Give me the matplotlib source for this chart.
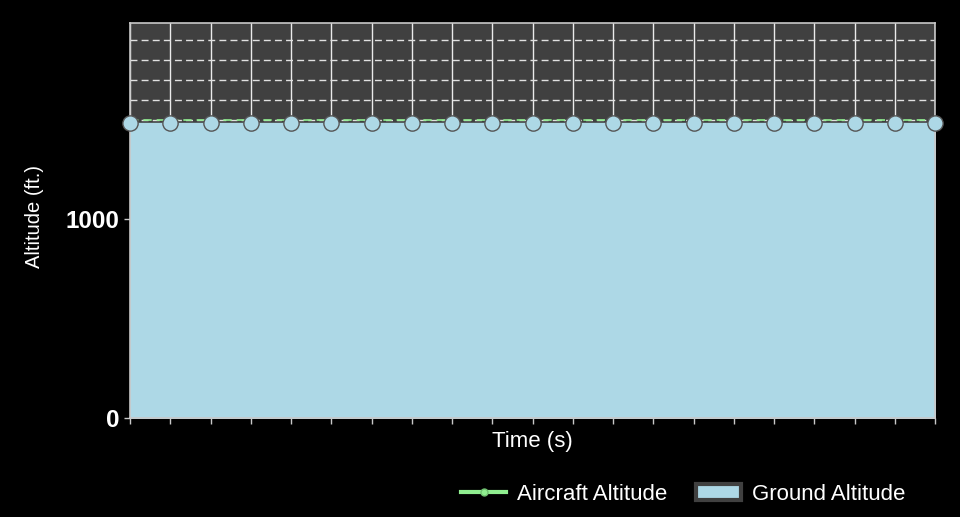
import numpy as np
import matplotlib
matplotlib.use("Agg")
import matplotlib.pyplot as plt
from matplotlib.lines import Line2D
from matplotlib.patches import Patch

# data
time_s = list(range(21))
ground_alt = [1482] * 21
aircraft_alt = [1500] * 21
y_ticks = [0, 1000]

plt.rcParams['font.family'] = ['Liberation Sans', 'DejaVu Sans']

fig = plt.figure(figsize=(9.6, 5.17), dpi=100, facecolor='black')
ax = fig.add_axes([130 / 960, 1 - 418 / 517, 805 / 960, (418 - 22.7) / 517])
ax.set_facecolor('#404040')

ax.set_xlim(0, 20)
ax.set_ylim(0, 1988)

# grid
ax.set_xticks(time_s)
ax.set_xticklabels([])
ax.set_yticks(y_ticks)
ax.set_yticks(np.arange(100, 2000, 100), minor=True)
ax.grid(True, axis='x', which='major', color='#ebebeb', lw=1.0, zorder=1)
ax.grid(True, axis='y', which='minor', color='#e0e0e0', lw=1.0, ls=(0, (5, 3)), zorder=1)
ax.tick_params(axis='y', which='minor', length=0)
ax.tick_params(axis='both', which='major', colors='#c8c8c8', length=4, width=1)
for lbl in ax.get_yticklabels():
    lbl.set_color('white')
    lbl.set_fontweight('bold')
    lbl.set_fontsize(17.5)
for sp in ax.spines.values():
    sp.set_color('#c8c8c8')
    sp.set_linewidth(1.2)

# ground area
ax.fill_between(time_s, 0, ground_alt, color='#add8e6', zorder=2)

# aircraft line
ax.plot(time_s, aircraft_alt, color='#90ee90', ls=(0, (5, 3)), lw=1.2,
        marker='o', markersize=4, zorder=3, clip_on=False)

# ground markers
ax.plot(time_s, ground_alt, ls='none', marker='o', markersize=11,
        markerfacecolor='#add8e6', markeredgecolor='#555555', markeredgewidth=1,
        zorder=4, clip_on=False)

ax.set_xlabel('Time (s)', color='white', fontsize=16, labelpad=2)
fig.text(34 / 960, 1 - 216 / 517, 'Altitude (ft.)', color='white', fontsize=14.5,
         rotation=90, ha='center', va='center')

handles = [
    Line2D([0], [0], color='#90ee90', lw=3, marker='o', markersize=5,
           markerfacecolor='#90ee90', markeredgecolor='#70c070'),
    Patch(facecolor='#add8e6', edgecolor='#404040', linewidth=3),
]
leg = fig.legend(handles, ['Aircraft Altitude', 'Ground Altitude'], ncol=2,
                 loc='center right', bbox_to_anchor=(925 / 960, 1 - 494 / 517),
                 frameon=False, fontsize=16, handlelength=2.0, columnspacing=1.3,
                 handletextpad=0.5)
for t in leg.get_texts():
    t.set_color('white')

fig.savefig('out.png', dpi=100, facecolor='black')
